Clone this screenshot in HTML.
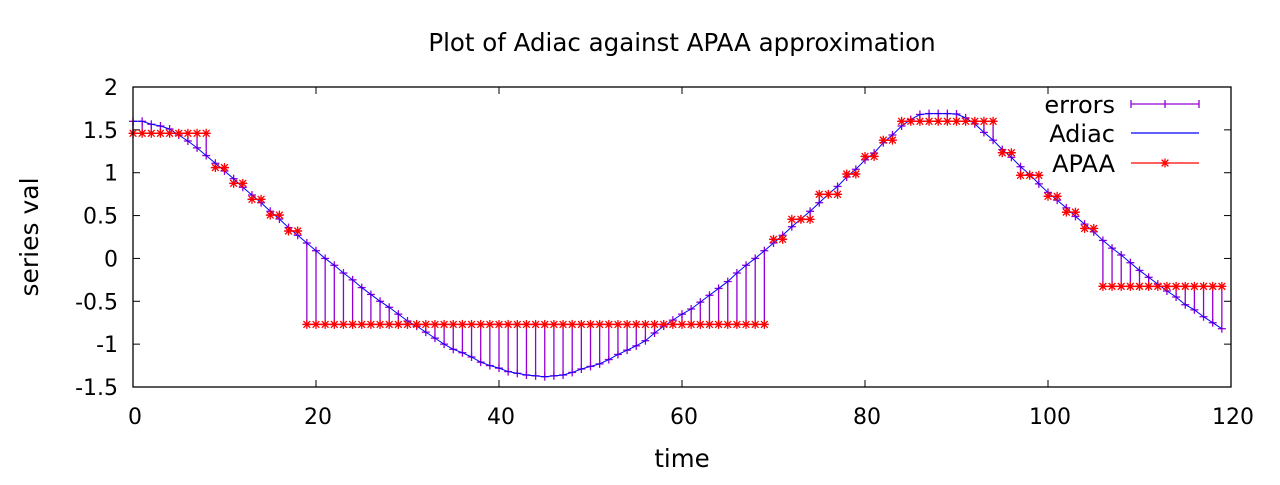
<!DOCTYPE html>
<html><head><meta charset="utf-8"><style>
html,body{margin:0;padding:0;background:#fff;}
svg text{font-family:"DejaVu Sans","Liberation Sans",sans-serif;fill:#000;}
</style></head><body>
<svg id="chart" width="1280" height="480" xmlns="http://www.w3.org/2000/svg">
<rect x="0" y="0" width="1280" height="480" fill="#fff"/>
<text x="682" y="51" font-size="24.5" text-anchor="middle">Plot of Adiac against APAA approximation</text>
<text x="682" y="467" font-size="24.5" text-anchor="middle">time</text>
<text transform="translate(38,237) rotate(-90)" font-size="25" text-anchor="middle">series val</text>
<g id="axes"></g>
<g id="errs"></g>
<g id="adiac"></g>
<g id="apaa"></g>
<rect x="133" y="87" width="1098" height="300" fill="none" stroke="#000" stroke-width="1.3"/>
<g id="legend"></g>
</svg>
<script>
const xTicks = [0,20,40,60,80,100,120];
const yTicks = [2,1.5,1,0.5,0,-0.5,-1,-1.5];
const yTickLabels = ["2","1.5","1","0.5","0","-0.5","-1","-1.5"];
const adiacValues = [1.60,1.60,1.565,1.545,1.51,1.44,1.37,1.29,1.20,1.11,1.02,0.93,0.83,0.74,0.65,0.55,0.46,0.36,0.27,0.18,0.09,0.0,-0.08,-0.17,-0.25,-0.34,-0.42,-0.50,-0.57,-0.65,-0.73,-0.79,-0.86,-0.93,-1.0,-1.06,-1.10,-1.15,-1.21,-1.25,-1.28,-1.32,-1.34,-1.36,-1.37,-1.38,-1.37,-1.36,-1.33,-1.29,-1.26,-1.23,-1.18,-1.12,-1.07,-1.02,-0.96,-0.87,-0.79,-0.72,-0.65,-0.59,-0.51,-0.43,-0.35,-0.27,-0.17,-0.08,0.0,0.09,0.18,0.27,0.37,0.46,0.55,0.65,0.75,0.84,0.95,1.04,1.15,1.23,1.35,1.44,1.545,1.62,1.68,1.69,1.69,1.69,1.685,1.64,1.57,1.47,1.38,1.27,1.18,1.07,0.98,0.87,0.77,0.68,0.59,0.49,0.40,0.31,0.21,0.12,0.04,-0.05,-0.14,-0.22,-0.30,-0.38,-0.45,-0.54,-0.60,-0.68,-0.75,-0.82];
const apaaLevels = [1.46,1.06,0.876,0.69,0.506,0.32,-0.77,0.223,0.456,0.748,0.985,1.19,1.38,1.6,1.233,0.97,0.725,0.54,0.35,-0.326];
const apaaLengths = [9,2,2,2,2,2,51,2,3,3,2,2,2,11,2,3,2,2,2,14];

const NS="http://www.w3.org/2000/svg";
const X0=133,X1=1231,Y0=87,Y1=387;
function sx(v){return X0+(v-0)/(120-0)*(X1-X0);}
function sy(v){return Y1-(v-(-1.5))/(2-(-1.5))*(Y1-Y0);}
function mk(tag,attrs,parent){const e=document.createElementNS(NS,tag);for(const k in attrs)e.setAttribute(k,attrs[k]);parent.appendChild(e);return e;}

const axes=document.getElementById('axes');
xTicks.forEach((t,i)=>{
  const x=sx(t);
  const a=mk('line',{x1:x,x2:x,y1:Y1,y2:Y1-7,stroke:'#000','stroke-width':1},axes);
  
  
  const b=mk('line',{x1:x,x2:x,y1:Y0,y2:Y0+7,stroke:'#000','stroke-width':1},axes);
  
  
  const tx=mk('text',{x:x+2,y:424,'font-size':22,'text-anchor':'middle'},axes);
  tx.textContent=String(t);
  
  
});
yTicks.forEach((t,i)=>{
  const y=sy(t);
  const a=mk('line',{x1:X0,x2:X0+7,y1:y,y2:y,stroke:'#000','stroke-width':1},axes);
  
  
  const b=mk('line',{x1:X1,x2:X1-7,y1:y,y2:y,stroke:'#000','stroke-width':1},axes);
  
  
  const tx=mk('text',{x:118,y:y+8,'font-size':22,'text-anchor':'end'},axes);
  tx.textContent=yTickLabels[i];
  
  
});

const apaa=[];
apaaLevels.forEach((v,i)=>{for(let k=0;k<apaaLengths[i];k++)apaa.push(v);});

const errs=document.getElementById('errs');
adiacValues.forEach((v,i)=>{
  const x=sx(i), ya=sy(v), yb=sy(apaa[i]);
  const l=mk('line',{x1:x,x2:x,y1:ya,y2:yb,stroke:'#9400d3','stroke-width':1.3},errs);
  
  
  mk('line',{x1:x-4,x2:x+4,y1:ya,y2:ya,stroke:'#9400d3','stroke-width':1.3},errs);
  mk('line',{x1:x-4,x2:x+4,y1:yb,y2:yb,stroke:'#9400d3','stroke-width':1.3},errs);
  mk('line',{x1:x,x2:x,y1:ya-4,y2:ya+4,stroke:'#9400d3','stroke-width':1.3},errs);
});

const ad=document.getElementById('adiac');
const ap=mk('polyline',{points:adiacValues.map((v,i)=>sx(i)+','+sy(v)).join(' '),fill:'none',stroke:'#0000ff','stroke-width':1},ad);



const pg=document.getElementById('apaa');
function star(x,y,p,c){
  const r=4.5;
  mk('line',{x1:x-r,x2:x+r,y1:y,y2:y,stroke:c,'stroke-width':1.3},p);
  mk('line',{x1:x,x2:x,y1:y-r,y2:y+r,stroke:c,'stroke-width':1.3},p);
  mk('line',{x1:x-r*0.75,x2:x+r*0.75,y1:y-r*0.75,y2:y+r*0.75,stroke:c,'stroke-width':1.3},p);
  mk('line',{x1:x-r*0.75,x2:x+r*0.75,y1:y+r*0.75,y2:y-r*0.75,stroke:c,'stroke-width':1.3},p);
}
let start=0;
apaaLevels.forEach((v,i)=>{
  const end=start+apaaLengths[i]-1;
  const seg=mk('line',{x1:sx(start),x2:sx(end),y1:sy(v),y2:sy(v),stroke:'#ff0000','stroke-width':1.5},pg);
  
  
  start=end+1;
});
apaa.forEach((v,i)=>star(sx(i),sy(v),pg,'#ff0000'));

const lg=document.getElementById('legend');
const entries=[['errors','#9400d3',104],['Adiac','#0000ff',133],['APAA','#ff0000',163]];
entries.forEach(([n,c,y],i)=>{
  const t=mk('text',{x:1115,y:y+9,'font-size':24,'text-anchor':'end'},lg);
  t.textContent=n;
  
  
  const l=mk('line',{x1:1131,x2:1199,y1:y,y2:y,stroke:c,'stroke-width':1.3},lg);
  
  
});
[1131,1165,1199].forEach(x=>mk('line',{x1:x,x2:x,y1:100,y2:108,stroke:'#9400d3','stroke-width':1.3},lg));
star(1165,163,lg,'#ff0000');
</script>
</body></html>
